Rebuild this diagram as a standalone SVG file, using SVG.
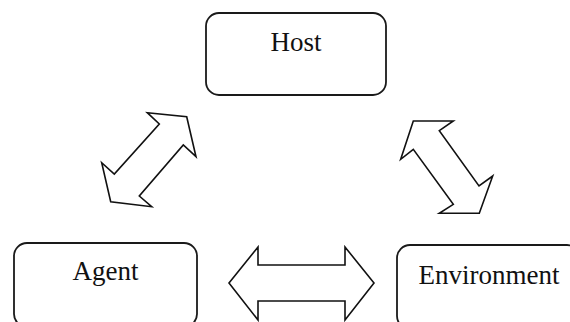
<svg xmlns="http://www.w3.org/2000/svg" width="570" height="322" viewBox="0 0 570 322">
<style>
.box{fill:#fff;stroke:#1a1a1a;stroke-width:1.8}
.lbl{font-family:"Liberation Serif","Times New Roman",serif;font-size:27px;fill:#111;text-anchor:middle}
.arr{fill:#fff;stroke:#111;stroke-width:1.6;stroke-linejoin:miter}
</style>
<rect width="570" height="322" fill="#fff"/>
<g id="host">
<rect class="box" x="206" y="13" width="180" height="82" rx="13"/>
<text class="lbl" x="296" y="51">Host</text>
</g>
<g id="agent">
<rect class="box" x="14" y="243" width="183" height="84" rx="13"/>
<text class="lbl" x="105.5" y="280">Agent</text>
</g>
<g id="environment">
<rect class="box" x="397" y="245" width="183" height="84" rx="13"/>
<text class="lbl" x="489" y="284">Environment</text>
</g>
<g id="connectors">
<polygon class="arr" points="186.7,116.7 196,156.7 183.3,145 139.3,196 151.7,206.7 110.7,201.7 101.7,162.7 114.3,174 159.3,124 147.3,112.7"/>
<polygon class="arr" points="413.3,121 453.3,121 439.3,130.7 479,186 492.7,176 479.3,213.3 439.3,213.3 453.3,204.3 413.3,149.3 400.7,159.3"/>
<polygon class="arr" points="229,283 258,247 258,265 345,265 345,247 374,283 345,320 345,301 258,301 258,320"/>
</g>
</svg>
